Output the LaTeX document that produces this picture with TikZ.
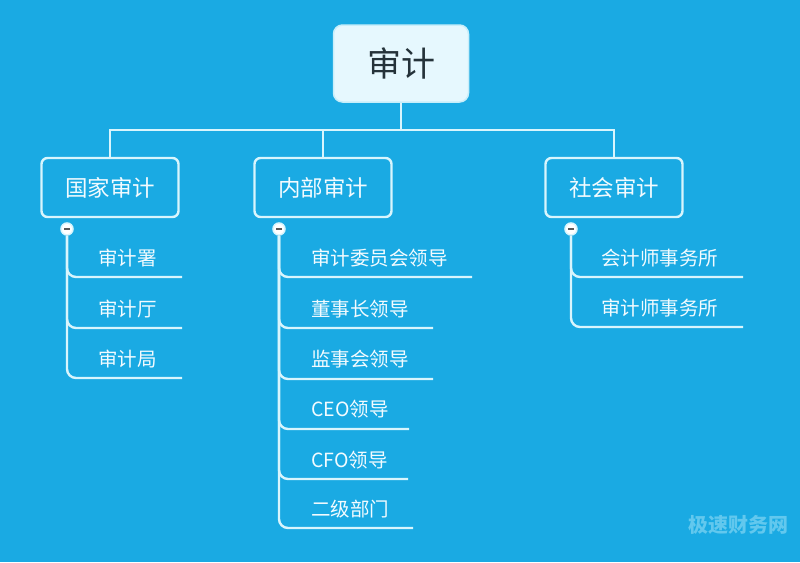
\documentclass[tikz,border=0pt]{standalone}
\usepackage{fontspec}
\setmainfont{Noto Sans CJK SC}
\definecolor{bgc}{HTML}{1AAAE3}
\definecolor{linec}{HTML}{D8F5FD}
\definecolor{txtc}{HTML}{F2FBFF}
\definecolor{rootfill}{HTML}{E6F8FE}
\definecolor{rootline}{HTML}{C8EEFA}
\definecolor{roottxt}{HTML}{25333A}
\definecolor{wmc}{HTML}{62C8EE}
\begin{document}
\begin{tikzpicture}[x=1pt,y=-1pt,
  ln/.style={draw=linec, line width=2.4pt},
  rootbox/.style={draw=rootline, line width=1.5pt, fill=rootfill, rounded corners=9pt,
    minimum width=135pt, minimum height=77pt, text=roottxt,
    font=\fontsize{34}{34}\selectfont},
  branchbox/.style={ln, rounded corners=6pt, minimum width=137pt, minimum height=59pt,
    text=txtc, font=\fontsize{22.5}{22.5}\selectfont},
  leaf/.style={anchor=west, text=txtc, inner sep=0pt, font=\fontsize{19.5}{19.5}\selectfont},
  knob/.style={circle, draw=linec, line width=1.5pt, fill=white, minimum size=12pt, inner sep=0pt},
  minusbar/.style={draw=gray!70!black, line width=1.6pt},
  branchln/.style={ln, rounded corners=9pt}
]
\fill[bgc] (0,0) rectangle (800,562);
\useasboundingbox (0,0) rectangle (800,562);

% root
\node[rootbox] (root) at (401,63.5) {审计};
\coordinate (bus) at (401,130);

% branch boxes
\node[branchbox] (gj) at (110,187.5) {国家审计};
\node[branchbox] (nb) at (323,187.5) {内部审计};
\node[branchbox] (sh) at (614,187.5) {社会审计};

\draw[ln] (root.south) -- (root.south |- bus);
\draw[ln] (gj.north) -- (gj.north |- bus) -- (sh.north |- bus) -- (sh.north);
\draw[ln] (nb.north) -- (nb.north |- bus);

% knobs
\node[knob] (gjm) at (67,229) {};
\node[knob] (nbm) at (279,229) {};
\node[knob] (shm) at (571,229) {};
\foreach \k in {gjm,nbm,shm}{
  \draw[minusbar] ([xshift=-3pt]\k.center) -- ([xshift=3pt]\k.center);
}

% 国家审计 children
\node[leaf] (g1) at (98,258) {审计署};
\node[leaf] (g2) at (98,309) {审计厅};
\node[leaf] (g3) at (98,359) {审计局};
\coordinate (g1e) at (182,277);
\coordinate (g2e) at (182,328);
\coordinate (g3e) at (182,378);
\foreach \e in {g1e,g2e,g3e}{
  \draw[branchln] (gjm.south) |- (\e);
}

% 内部审计 children
\node[leaf] (n1) at (311,258) {审计委员会领导};
\node[leaf] (n2) at (311,309) {董事长领导};
\node[leaf] (n3) at (311,359) {监事会领导};
\node[leaf] (n4) at (311,409) {CEO领导};
\node[leaf] (n5) at (311,460) {CFO领导};
\node[leaf] (n6) at (311,509) {二级部门};
\coordinate (n1e) at (472,277);
\coordinate (n2e) at (433,328);
\coordinate (n3e) at (433,379);
\coordinate (n4e) at (409,429);
\coordinate (n5e) at (408,479);
\coordinate (n6e) at (413,528);
\foreach \e in {n1e,n2e,n3e,n4e,n5e,n6e}{
  \draw[branchln] (nbm.south) |- (\e);
}

% 社会审计 children
\node[leaf] (s1) at (601,258) {会计师事务所};
\node[leaf] (s2) at (601,308) {审计师事务所};
\coordinate (s1e) at (743,277);
\coordinate (s2e) at (743,327);
\foreach \e in {s1e,s2e}{
  \draw[branchln] (shm.south) |- (\e);
}

% watermark
\node[text=wmc, font=\fontsize{20}{20}\selectfont\bfseries] (wm) at (738,525) {极速财务网};
\end{tikzpicture}
\end{document}
